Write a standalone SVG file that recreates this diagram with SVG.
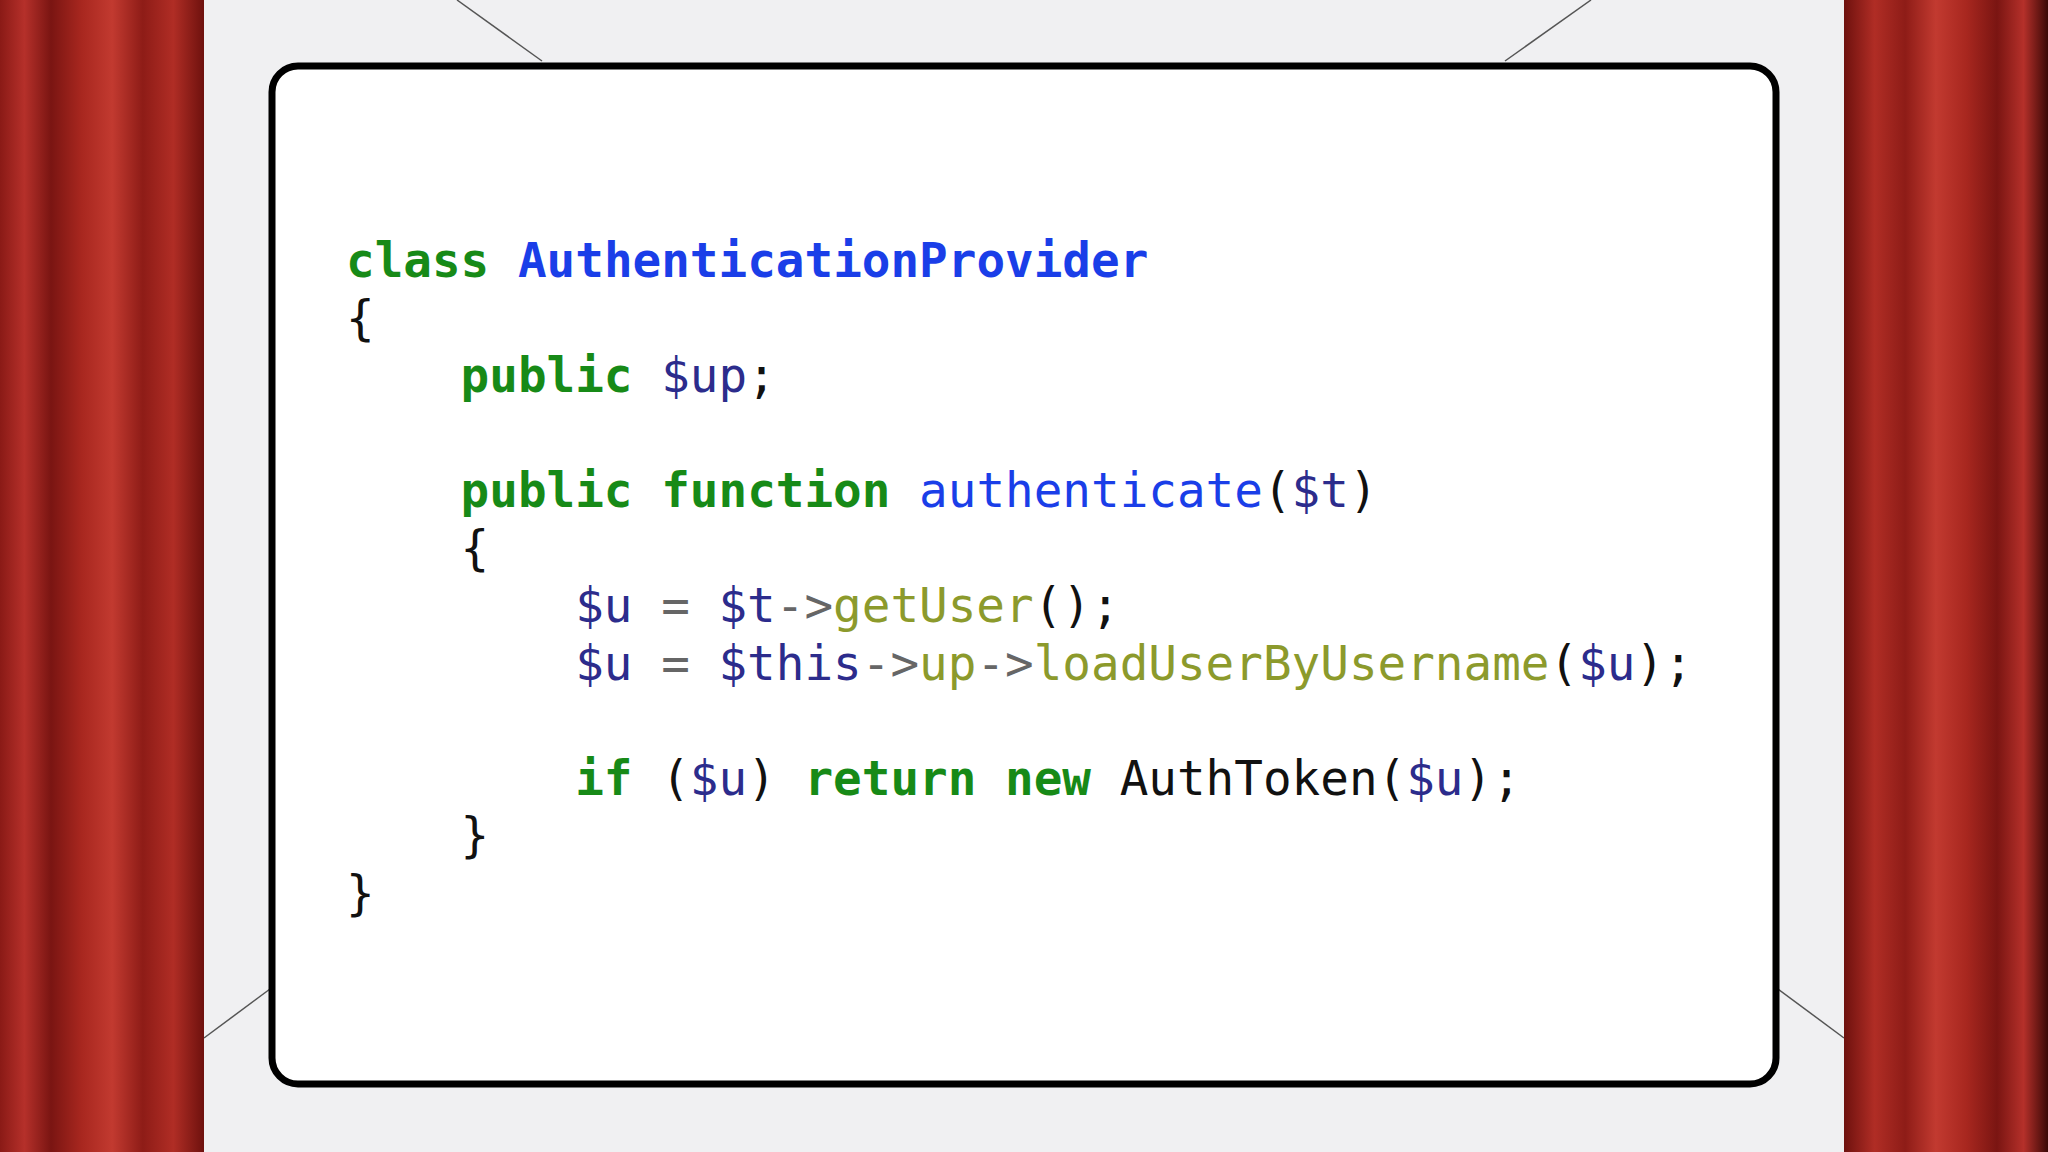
<svg xmlns="http://www.w3.org/2000/svg" width="2048" height="1152" viewBox="0 0 2048 1152">
<defs>
<linearGradient id="cl" x1="0" y1="0" x2="1" y2="0">
<stop offset="0" stop-color="#8a1a16"/><stop offset="0.12" stop-color="#b5302a"/><stop offset="0.25" stop-color="#7a1512"/><stop offset="0.4" stop-color="#a8271f"/><stop offset="0.55" stop-color="#c23a30"/><stop offset="0.7" stop-color="#8e1c17"/><stop offset="0.85" stop-color="#b02d25"/><stop offset="1" stop-color="#6e110e"/>
</linearGradient>
<linearGradient id="cr" x1="0" y1="0" x2="1" y2="0">
<stop offset="0" stop-color="#6e110e"/><stop offset="0.15" stop-color="#b02d25"/><stop offset="0.3" stop-color="#8e1c17"/><stop offset="0.45" stop-color="#c23a30"/><stop offset="0.6" stop-color="#a8271f"/><stop offset="0.75" stop-color="#7a1512"/><stop offset="0.88" stop-color="#b5302a"/><stop offset="1" stop-color="#3a0806"/>
</linearGradient>
<style>
.c text{font-family:"DejaVu Sans Mono",monospace;font-size:47.6px;fill:#111;white-space:pre}
.k{fill:#178a17;font-weight:bold}
.n{fill:#1a3ee8;font-weight:bold}
.f{fill:#1a3ee8}
.v{fill:#2c2c8c}
.m{fill:#8c9a2c}
.a{fill:#666}
.ln{stroke:#555;stroke-width:1.5}
</style>
</defs>
<rect width="2048" height="1152" fill="#f0f0f2"/>
<g id="lines">
<line class="ln" x1="457" y1="0" x2="542" y2="61"/>
<line class="ln" x1="1591" y1="0" x2="1505" y2="61"/>
<line class="ln" x1="204" y1="1038" x2="270" y2="989"/>
<line class="ln" x1="1778" y1="989" x2="1844" y2="1038"/>
</g>
<rect x="0" y="0" width="204" height="1152" fill="url(#cl)"/>
<rect x="1844" y="0" width="204" height="1152" fill="url(#cr)"/>
<g id="card">
<rect x="272" y="66" width="1504" height="1018" rx="26" fill="#fff" stroke="#000" stroke-width="7"/>
</g>
<g id="code" class="c">
<text x="346" y="277"><tspan class="k">class</tspan> <tspan class="n">AuthenticationProvider</tspan></text>
<text x="346" y="334.5">{</text>
<text x="460.6" y="392"><tspan class="k">public</tspan> <tspan class="v">$up</tspan>;</text>
<text x="460.6" y="507"><tspan class="k">public</tspan> <tspan class="k">function</tspan> <tspan class="f">authenticate</tspan>(<tspan class="v">$t</tspan>)</text>
<text x="460.6" y="564.5">{</text>
<text x="575.2" y="622"><tspan class="v">$u</tspan> <tspan class="a">=</tspan> <tspan class="v">$t</tspan><tspan class="a">-&gt;</tspan><tspan class="m">getUser</tspan>();</text>
<text x="575.2" y="679.5"><tspan class="v">$u</tspan> <tspan class="a">=</tspan> <tspan class="v">$this</tspan><tspan class="a">-&gt;</tspan><tspan class="m">up</tspan><tspan class="a">-&gt;</tspan><tspan class="m">loadUserByUsername</tspan>(<tspan class="v">$u</tspan>);</text>
<text x="575.2" y="794.5"><tspan class="k">if</tspan> (<tspan class="v">$u</tspan>) <tspan class="k">return</tspan> <tspan class="k">new</tspan> AuthToken(<tspan class="v">$u</tspan>);</text>
<text x="460.6" y="852">}</text>
<text x="346" y="909.5">}</text>
</g>
</svg>
